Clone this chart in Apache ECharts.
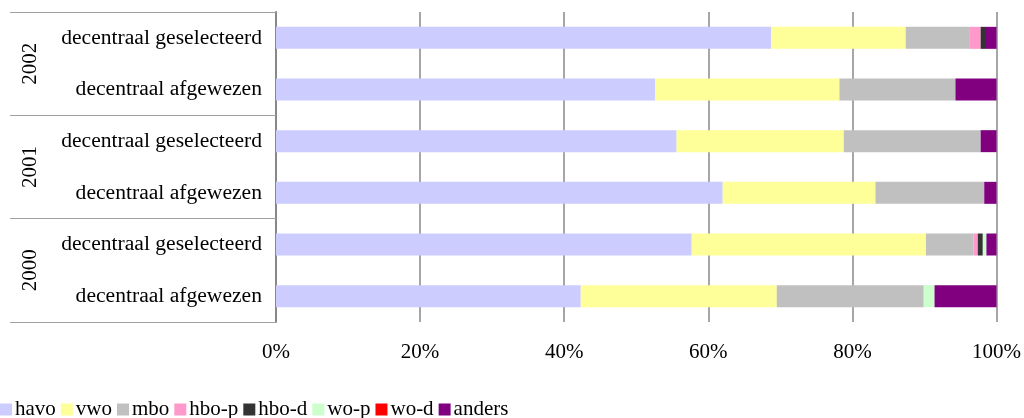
<!DOCTYPE html>
<html>
<head>
<meta charset="utf-8">
<script src="https://cdn.jsdelivr.net/npm/echarts@6/dist/echarts.min.js"></script>
<style>
  html, body { margin: 0; padding: 0; background: #fff; }
  #chart { width: 1024px; height: 418px; }
</style>
</head>
<body>
<div id="chart"></div>
<script>
// rijen van boven naar onder
var categories = ['decentraal geselecteerd', 'decentraal afgewezen',
                  'decentraal geselecteerd', 'decentraal afgewezen',
                  'decentraal geselecteerd', 'decentraal afgewezen'];
var years = ['2002', '2001', '2000'];

// percentages per opleiding
var havo   = [68.7, 52.6, 55.6, 62.0, 57.7, 42.3];
var vwo    = [18.7, 25.6, 23.2, 21.2, 32.5, 27.2];
var mbo    = [8.8, 16.1, 19.0, 15.1, 6.6, 20.4];
var hboP   = [1.6, 0, 0, 0, 0.6, 0];
var hboD   = [0.6, 0, 0, 0, 0.7, 0];
var woP    = [0, 0, 0, 0, 0.5, 1.5];
var woD    = [0, 0, 0, 0, 0, 0];
var anders = [1.6, 5.7, 2.2, 1.7, 1.4, 8.6];

var xTicks = [0, 20, 40, 60, 80, 100];

var names  = ['havo', 'vwo', 'mbo', 'hbo-p', 'hbo-d', 'wo-p', 'wo-d', 'anders'];
var values = [havo, vwo, mbo, hboP, hboD, woP, woD, anders];
var colors = ['#CCCCFF', '#FFFF99', '#C0C0C0', '#FF99CC', '#333333', '#CCFFCC', '#FF0000', '#800080'];

var font = '"Liberation Serif", "DejaVu Serif", serif';
var fs = 21;

var chart = echarts.init(document.getElementById('chart'));

var series = names.map(function (n, i) {
    return {
        name: n,
        type: 'bar',
        stack: 'total',
        barWidth: 22,
        yAxisIndex: 0,
        itemStyle: {color: colors[i]},
        data: values[i]
    };
});

option = {
    animation: false,
    textStyle: {fontFamily: font, color: '#000'},
    color: colors,
    grid: {left: 276, right: 27, top: 12, bottom: 96},
    legend: {
        left: 0,
        top: 399,
        padding: 0,
        icon: 'rect',
        itemWidth: 12,
        itemHeight: 12,
        itemGap: 5,
        selectedMode: false,
        textStyle: {fontFamily: font, fontSize: fs, color: '#000', padding: [0, 0, 0, -2]},
        data: names
    },
    xAxis: {
        type: 'value',
        min: xTicks[0],
        max: xTicks[xTicks.length - 1],
        interval: 20,
        axisLine: {show: false},
        axisTick: {show: false},
        axisLabel: {
            formatter: '{value}%',
            fontFamily: font,
            fontSize: fs,
            color: '#000',
            margin: 20
        },
        splitLine: {lineStyle: {color: '#a6a6a6', width: 2}}
    },
    yAxis: [
        {
            type: 'category',
            inverse: true,
            data: categories,
            axisLine: {show: true, lineStyle: {color: '#888', width: 2}},
            axisTick: {show: false},
            axisLabel: {fontFamily: font, fontSize: 21.6, color: '#000', margin: 14}
        },
        {
            type: 'category',
            inverse: true,
            position: 'left',
            offset: 266,
            data: years,
            axisLine: {show: false},
            axisTick: {
                show: true,
                inside: true,
                length: 266,
                interval: 0,
                lineStyle: {color: '#a0a0a0', width: 1}
            },
            axisLabel: {
                inside: true,
                rotate: 90,
                interval: 0,
                margin: 10,
                fontFamily: font,
                fontSize: fs,
                color: '#000'
            }
        }
    ],
    series: series
};

chart.setOption(option);
</script>
</body>
</html>
